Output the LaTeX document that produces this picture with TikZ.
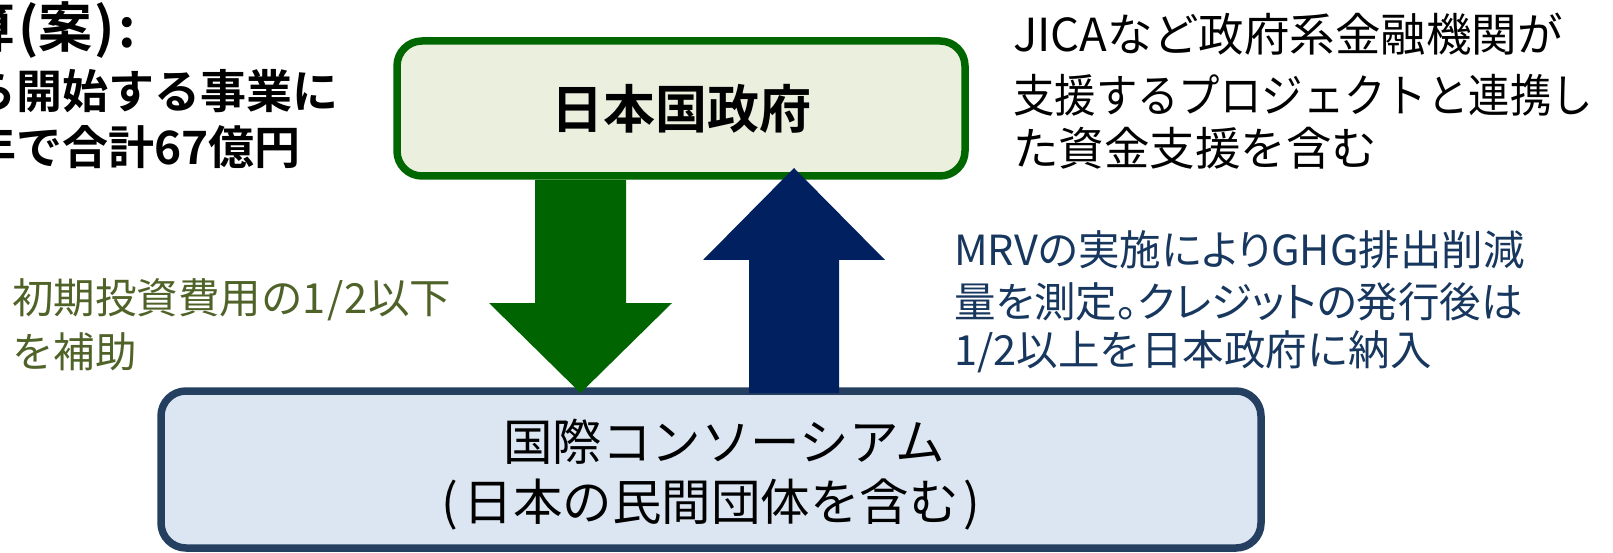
\documentclass[tikz,border=0pt]{standalone}
\usepackage{fontspec}
\usetikzlibrary{calc}
\setmainfont{Noto Sans CJK JP}[BoldFont={Noto Sans CJK JP Bold}]
\newfontfamily\paltfont{Noto Sans CJK JP}[RawFeature=+palt]
\newfontfamily\narrowfont{Noto Sans CJK JP}[FakeStretch=0.91]
\definecolor{govgreen}{HTML}{006600}
\definecolor{govfill}{HTML}{EBEFDE}
\definecolor{arrgreen}{HTML}{006400}
\definecolor{arrnavy}{HTML}{002060}
\definecolor{consborder}{HTML}{243F60}
\definecolor{consfill}{HTML}{DCE6F2}
\definecolor{olivetext}{HTML}{4F6228}
\definecolor{navytext}{HTML}{17375E}
\begin{document}
\begin{tikzpicture}[x=1pt,y=-1pt,
  govbox/.style={draw=govgreen,line width=7.5pt,fill=govfill,rounded corners=25pt,
    minimum width=568pt,minimum height=135pt,inner sep=0pt,font=\fontsize{52}{60}\selectfont\bfseries},
  consbox/.style={draw=consborder,line width=7.5pt,fill=consfill,rounded corners=25pt,
    minimum width=1100pt,minimum height=157pt,inner sep=0pt},
  constext/.style={inner sep=0pt,font=\fontsize{49.5}{56}\selectfont},
  lefttext/.style={inner sep=0pt,anchor=west},
  oltext/.style={lefttext,text=olivetext,font=\fontsize{41.5}{48}\selectfont},
  nvtext/.style={lefttext,text=navytext,font=\fontsize{41.5}{48}\selectfont},
  trtext/.style={lefttext,font=\fontsize{45.5}{52}\selectfont},
  tltext/.style={lefttext,font=\fontsize{46}{52}\selectfont\bfseries},
]
\useasboundingbox (0,0) rectangle (1613,553);
\clip (0,0) rectangle (1613,553);
\fill[white] (0,0) rectangle (1613,553);

% boxes
\node[govbox] (gov) at (681,108.5) {日本国政府};
\node[consbox] (cons) at (711,469.5) {};
\node[constext] (cons1) at (724,442) {国際コンソーシアム};
\node[constext] (cons2) at (711,505) {(\kern5pt日本の民間団体を含む\kern5pt)};

% green down arrow
\coordinate (gs) at (580.5,180);
\coordinate (gt) at (580.5,393);
\fill[arrgreen] ($(gs)+(-45.5,0)$) -- ($(gs)+(45.5,0)$) -- ($(gs)+(45.5,123)$)
  -- ($(gs)+(91.5,123)$) -- (gt) -- ($(gs)+(-91.5,123)$) -- ($(gs)+(-45.5,123)$) -- cycle;

% navy up arrow
\coordinate (nb) at (794,393);
\coordinate (nt) at (794,168);
\fill[arrnavy] ($(nb)+(-45,0)$) -- ($(nb)+(45,0)$) -- ($(nb)+(45,-133)$)
  -- ($(nb)+(91,-133)$) -- (nt) -- ($(nb)+(-91,-133)$) -- ($(nb)+(-45,-133)$) -- cycle;

% top-left (partly cut off)
\node[lefttext,font=\fontsize{54}{60}\selectfont\bfseries] (tl1) at (-39,30) {算\kern3pt(案\kern2pt)\kern4pt:};
\node[tltext] (tl2) at (-30,91) {ら開始する事業に};
\node[tltext] (tl3) at (-30,147) {年で合計67億円};

% top-right
\node[trtext] (tr1) at (1013,34) {JICAなど政府系金融機関が};
\node[trtext] (tr2) at (1013,95) {\narrowfont 支援するプロジェクトと連携し};
\node[trtext] (tr3) at (1013,148) {た資金支援を含む};

% green label
\node[oltext] (gl1) at (12,300) {初期投資費用の1\kern1.5pt/\kern1.5pt2以下};
\node[oltext] (gl2) at (12,352) {を補助};

% navy label
\node[nvtext] (nl1) at (954,250) {\paltfont MRVの実施によりGHG排出削減};
\node[nvtext] (nl2) at (954,302) {\paltfont 量を測定。クレジットの発行後は};
\node[nvtext] (nl3) at (954,352) {1/2以上を日本政府に納入};
\end{tikzpicture}
\end{document}
